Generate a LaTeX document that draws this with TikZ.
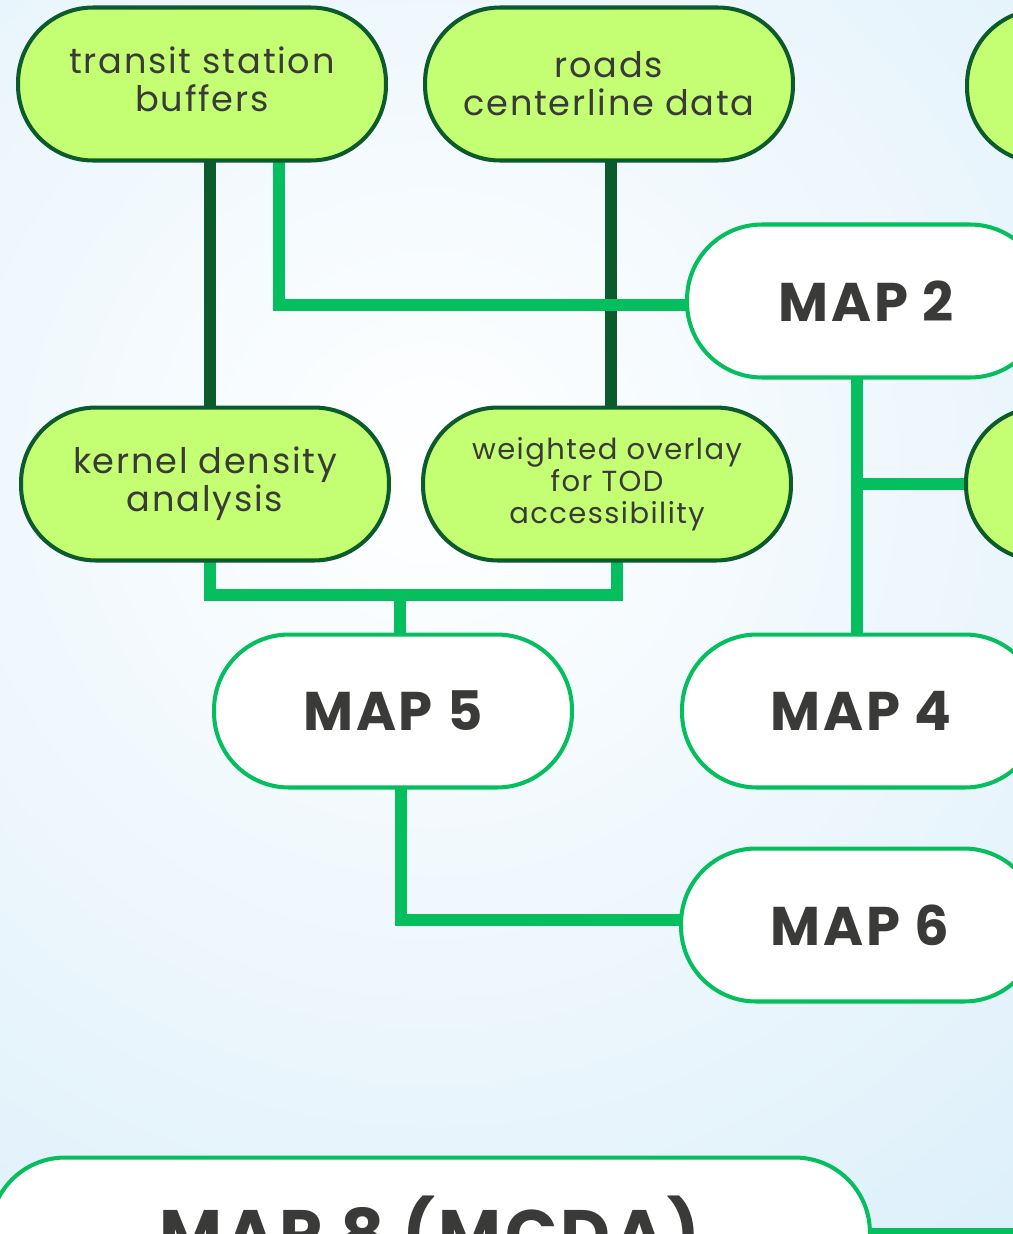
\documentclass[tikz,border=0pt]{standalone}
\usepackage{fontspec}
\setmainfont{Poppins}[LetterSpace=5]
\usepackage{tikz}
\usetikzlibrary{
    calc,
    positioning
}
\definecolor{skyblue}{HTML}{DCEFFA}
\definecolor{limefill}{HTML}{C4FE72}
\definecolor{pinegreen}{HTML}{0B5B2C}
\definecolor{mintgreen}{HTML}{05BE5E}
\definecolor{inkgray}{HTML}{3A3A38}
\pgfdeclarelayer{bg}
\pgfdeclarelayer{wires}
\pgfsetlayers{bg,wires,main}
\tikzset{
    input/.style={draw=pinegreen, line width=2.3pt, fill=limefill, text=inkgray,
        rounded corners=1.5cm, minimum width=7.36cm, minimum height=3.06cm,
        inner sep=0pt, align=center, font=\fontsize{20}{21.6}\selectfont},
    mapbox/.style={draw=mintgreen, line width=2.3pt, fill=white, text=inkgray,
        rounded corners=1.5cm, minimum width=7.16cm, minimum height=3.06cm,
        inner sep=0pt, font=\bfseries\fontsize{31}{36}\selectfont},
    darklink/.style={pinegreen, line width=6.8pt},
    link/.style={mintgreen, line width=6.8pt}
}

\begin{document}
\begin{tikzpicture}[x=0.02cm, y=-0.02cm]
                        \useasboundingbox (0, 0) rectangle (1013, 1234);
                        \begin{pgfonlayer}{bg}
                            \fill[skyblue] (0, 0) rectangle (1013, 1234);
                            \shade[inner color=white, outer color=skyblue] (430, 470) circle (20cm);
                        \end{pgfonlayer}
                        \node[input] at (202, 84) (tsb) {transit station\\buffers\vphantom{g}};
                        \node[input] at (609, 84) (rcd) {roads\\centerline data};
                        \node[input] at (1151, 86) (ptr) {};
                        \node[mapbox] at (866, 301) (map2) {MAP 2};
                        \node[input] at (205, 484) (kda) {kernel density\\analysis};
                        \node[input, font=\fontsize{16.5}{18.2}\selectfont] at (607, 484) (wo)
                            {weighted overlay\\for TOD\\accessibility};
                        \node[input] at (1150, 484) (pmr) {};
                        \node[mapbox] at (393, 711) (map5) {MAP 5};
                        \node[mapbox] at (861, 711) (map4) {MAP 4};
                        \node[mapbox] at (860, 925) (map6) {MAP 6};
                        \node[mapbox, minimum width=17.6cm, font=\bfseries\fontsize{39}{44}\selectfont]
                            at (430, 1234) (map8) {MAP 8 (MCDA)};
                        \coordinate (t1) at ([xshift=0.16cm]tsb.center);
                        \coordinate (t2) at ([xshift=1.54cm]tsb.center);
                        \coordinate (r1) at ([xshift=0.04cm]rcd.center);
                        \coordinate (k1) at ([xshift=0.10cm]kda.center);
                        \coordinate (w1) at ([xshift=0.20cm]wo.center);
                        \coordinate (j5) at (400, 595);
                        \coordinate (m2) at ([xshift=-0.18cm]map2.center);
                        \coordinate (m5) at ([xshift=0.16cm]map5.center);
                        \coordinate (e8) at (1020, 1234);
                        \begin{pgfonlayer}{wires}
                            \draw[darklink] (t1) -- (t1 |- kda.center);
                            \draw[darklink] (r1) -- (r1 |- wo.center);
                            \draw[link] (t2) |- ([yshift=-0.08cm]map2.center);
                            \draw[link] (k1) |- (j5) -| (w1);
                            \draw[link] (j5) -- (j5 |- map5.center);
                            \draw[link] (m2) -- (m2 |- map4.center);
                            \draw[link] (m2 |- pmr.center) -- (pmr.center);
                            \draw[link] (m5) |- ([yshift=0.1cm]map6.center);
                            \draw[link] (map8.center) -- (e8);
                        \end{pgfonlayer}
                    \end{tikzpicture}
\end{document}
